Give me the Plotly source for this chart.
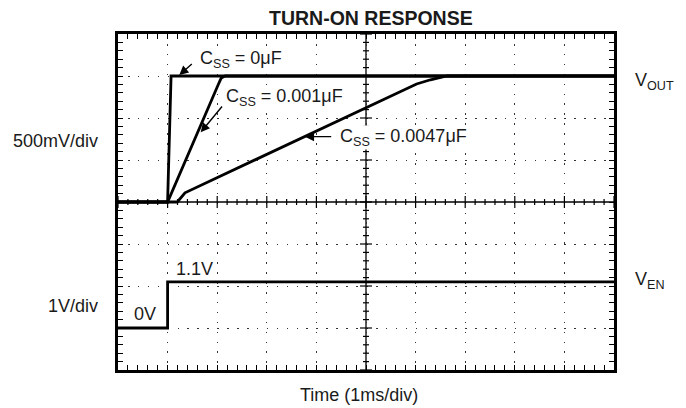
import plotly.graph_objects as go

# ---- data (time in ms, 0 = enable edge; voltages in V) ----
t_css0 = [-1.0, 0.0, 0.07, 9.0]
v_css0 = [0.0, 0.0, 1.5, 1.5]

t_css001 = [-1.0, 0.0, 1.02, 1.08, 1.16, 9.0]
v_css001 = [0.0, 0.0, 1.395, 1.475, 1.5, 1.5]

t_css0047 = [-1.0, 0.196, 0.35, 5.02, 5.3, 5.63, 9.0]
v_css0047 = [0.0, 0.0, 0.11, 1.405, 1.455, 1.5, 1.5]

t_en = [-1.0, 0.0, 0.0, 9.0]
v_en = [0.0, 0.0, 1.1, 1.1]

FONT = "Liberation Sans, Arial, Helvetica, sans-serif"
TXT = "#1a1a1a"
LW = 2.8

fig = go.Figure()
for t, v in [(t_css0, v_css0), (t_css001, v_css001), (t_css0047, v_css0047)]:
    fig.add_trace(go.Scatter(x=t, y=v, mode="lines", yaxis="y",
                             line=dict(color="black", width=LW), hoverinfo="skip"))
fig.add_trace(go.Scatter(x=t_en, y=v_en, mode="lines", yaxis="y2",
                         line=dict(color="black", width=LW), hoverinfo="skip"))

# centre cross (solid) with small ticks
shapes = [
    dict(type="line", xref="x", yref="y", x0=4, x1=4, y0=-2, y1=2,
         line=dict(color="black", width=1.3), layer="below"),
    dict(type="line", xref="x", yref="y", x0=-1, x1=9, y0=0, y1=0,
         line=dict(color="black", width=1.3), layer="below"),
]
for i in range(0, 51):
    t = -1 + i * 0.2
    h = 6 if i % 5 == 0 else 3
    shapes.append(dict(type="line", xref="x", yref="y", x0=t, x1=t,
                       ysizemode="pixel", yanchor=0, y0=-h, y1=h,
                       line=dict(color="black", width=1.2)))
for i in range(0, 41):
    v = -2 + i * 0.1
    h = 6 if i % 5 == 0 else 3
    shapes.append(dict(type="line", xref="x", yref="y", y0=v, y1=v,
                       xsizemode="pixel", xanchor=4, x0=-h, x1=h,
                       line=dict(color="black", width=1.2)))

ann = []
def label(text, x, y, xref="x", yref="y", xanchor="left", size=18, bold=False, bg=None):
    d = dict(text=("<b>%s</b>" % text) if bold else text, x=x, y=y,
             xref=xref, yref=yref, xanchor=xanchor, yanchor="middle",
             showarrow=False, font=dict(family=FONT, size=size, color=TXT))
    if bg:
        d.update(bgcolor=bg, borderpad=0)
    ann.append(d)

def arrow(x, y, ax, ay):
    ann.append(dict(text="", x=x, y=y, xref="x", yref="y", ax=ax, ay=ay,
                    showarrow=True, arrowhead=2, arrowsize=1.3, arrowwidth=1.4,
                    arrowcolor="black", standoff=0))

label("C<sub>SS</sub> = 0μF", 0.633, 1.70, bg="white")
label("C<sub>SS</sub> = 0.001μF", 1.157, 1.25, bg="white")
label("C<sub>SS</sub> = 0.0047μF", 3.456, 0.762, bg="white")
arrow(0.236, 1.512, 14, -12.3)
arrow(0.667, 0.83, 22.6, -27.3)
arrow(2.77, 0.778, 27.7, 0)

label("V<sub>OUT</sub>", 1.0377, 1.44, xref="paper", yref="y")
label("V<sub>EN</sub>", 1.0377, 1.12, xref="paper", yref="y2")
label("0V", -0.718, 0.333, yref="y2")
label("1.1V", 0.129, 1.405, yref="y2")
label("500mV/div", -0.0363, 0.726, xref="paper", yref="y", xanchor="right")
label("1V/div", -0.0363, 0.524, xref="paper", yref="y2", xanchor="right")
label("TURN-ON RESPONSE", 0.51, 1.049, xref="paper", yref="paper",
      xanchor="center", size=19.5, bold=True)
label("Time (1ms/div)", 0.486, -0.0744, xref="paper", yref="paper", xanchor="center")

GRIDDASH = "1.6px,8.32px"
# page body has an 8px default margin; size the figure so it fills the 686x408 window
fig.update_layout(
    width=678, height=400,
    margin=dict(l=110, r=72, t=26, b=38),
    paper_bgcolor="white", plot_bgcolor="white",
    showlegend=False,
    shapes=shapes, annotations=ann,
    xaxis=dict(range=[-1, 9], dtick=1, tick0=0, showticklabels=False,
               ticks="inside", ticklen=5, tickwidth=1.2, tickcolor="black",
               minor=dict(dtick=0.2, ticks="inside", ticklen=5, tickwidth=1.2,
                          tickcolor="black", showgrid=False),
               showgrid=True, gridcolor="#333", gridwidth=1.4, griddash=GRIDDASH,
               showline=True, linecolor="black", linewidth=3, mirror="ticks",
               zeroline=False, fixedrange=True),
    yaxis=dict(range=[-2, 2], dtick=0.5, tick0=0, showticklabels=False,
               ticks="inside", ticklen=5, tickwidth=1.2, tickcolor="black",
               minor=dict(dtick=0.1, ticks="inside", ticklen=5, tickwidth=1.2,
                          tickcolor="black", showgrid=False),
               showgrid=True, gridcolor="#333", gridwidth=1.4, griddash=GRIDDASH,
               showline=True, linecolor="black", linewidth=3, mirror="ticks",
               zeroline=False, fixedrange=True),
    yaxis2=dict(range=[-1, 7], overlaying="y", visible=False, fixedrange=True),
)

fig.write_html("out.html")
